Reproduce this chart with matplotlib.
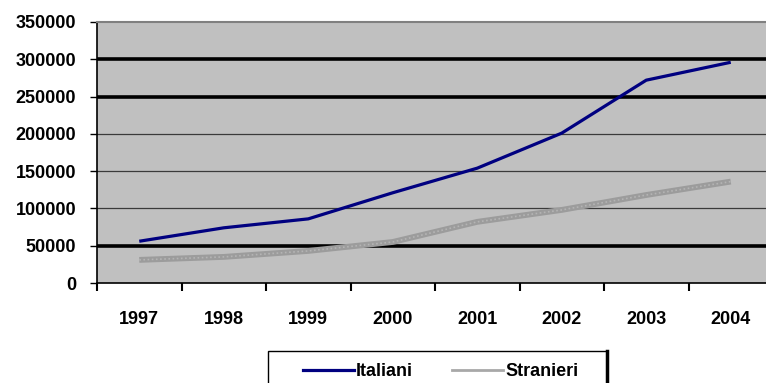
import matplotlib
matplotlib.use("Agg")
import matplotlib.pyplot as plt
from matplotlib.lines import Line2D
from matplotlib.patches import Rectangle

years = ["1997", "1998", "1999", "2000", "2001", "2002", "2003", "2004"]
italiani = [56000, 74000, 86000, 121000, 154000, 201000, 272000, 296000]
stranieri = [31000, 35000, 43000, 55000, 82000, 98000, 118000, 136000]
yticks = [0, 50000, 100000, 150000, 200000, 250000, 300000, 350000]
thick_grid = [50000, 250000, 300000]

plt.rcParams['font.family'] = ['Liberation Sans', 'DejaVu Sans']

W, H = 766, 383
fig = plt.figure(figsize=(W / 100, H / 100), dpi=100)
ax = fig.add_axes([97 / W, 1 - 283 / H, (773 - 97) / W, (283 - 22) / H])
ax.set_facecolor('#c0c0c0')

xs = [i + 0.5 for i in range(len(years))]
ax.plot(xs, stranieri, color='#9c9c9c', lw=4.2, solid_capstyle='butt', zorder=3)
ax.plot(xs, stranieri, color='#b4b4b4', lw=1.2, ls=(0, (1, 1.5)), zorder=3.1)
ax.plot(xs, italiani, color='#000080', lw=2.3, solid_capstyle='butt', zorder=4)

ax.set_xlim(0, len(years))
ax.set_ylim(0, 350000)
ax.set_yticks(yticks)
ax.set_yticklabels([str(v) for v in yticks], fontsize=13, fontweight='bold')
ax.set_xticks(range(len(years) + 1))
ax.set_xticklabels([])
ax.set_xticks(xs, minor=True)
ax.set_xticklabels(years, minor=True, fontsize=13, fontweight='bold')
ax.tick_params(axis='x', which='minor', length=0, pad=20)
ax.tick_params(axis='x', which='major', length=6, width=1.5, direction='out', color='black')
ax.tick_params(axis='y', length=5, width=1.0, direction='out', color='black', pad=10)

for v in yticks[1:-1]:
    if v in thick_grid:
        ax.axhline(v, color='black', lw=2.6, zorder=1)
    else:
        ax.axhline(v, color='#3a3a3a', lw=0.9, zorder=1)

for s in ['left', 'bottom']:
    ax.spines[s].set_color('black')
    ax.spines[s].set_linewidth(1.2)
ax.spines['top'].set_color('#808080')
ax.spines['top'].set_linewidth(1.5)
ax.spines['right'].set_visible(False)

# legend box (drawn manually so it runs off the bottom edge like the original)
fig.add_artist(Rectangle((268 / W, -0.1), (607 - 268) / W, 1 - 351 / H + 0.1,
                         transform=fig.transFigure, facecolor='white',
                         edgecolor='black', lw=1.0, zorder=5))
fig.add_artist(Line2D([607 / W, 607 / W], [0, 1 - 351 / H], color='black', lw=2.5,
                      transform=fig.transFigure, zorder=6))

handles = [Line2D([], [], color='#000080', lw=2.3),
           Line2D([], [], color='#a8a8a8', lw=2.0)]
leg = fig.legend(handles, ['Italiani', 'Stranieri'], ncol=2, loc='center left',
                 bbox_to_anchor=(303 / W, 1 - 372 / H), frameon=False,
                 prop={'weight': 'bold', 'size': 13}, handlelength=2.8, handletextpad=0.12,
                 columnspacing=2.2, borderpad=0, borderaxespad=0)
leg.set_zorder(7)

fig.savefig('out.png', dpi=100, facecolor='white')
